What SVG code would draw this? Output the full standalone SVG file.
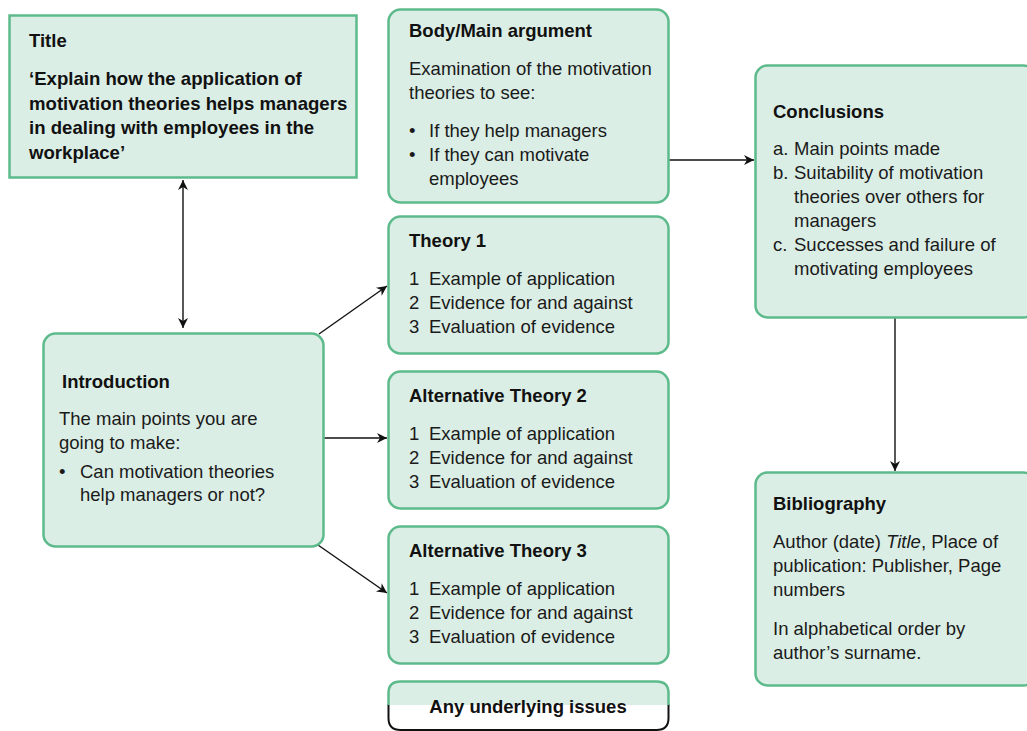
<svg xmlns="http://www.w3.org/2000/svg" width="1027" height="731" viewBox="0 0 1027 731">
  <style>
    .box { fill: #dbeee5; stroke: #5dba8b; stroke-width: 2.5; }
    .t { font-family: "Liberation Sans", Arial, sans-serif; font-size: 18.5px; fill: #1a1a1a; }
    .h { font-family: "Liberation Sans", Arial, sans-serif; font-size: 18.5px; font-weight: bold; fill: #111; }
    .tt { font-family: "Liberation Sans", Arial, sans-serif; font-size: 18.6px; font-weight: bold; fill: #111; }
    .edge { stroke: #111; stroke-width: 1.4; fill: none; }
  </style>
  <defs>
    <marker id="arrow" viewBox="0 0 10 10" refX="10" refY="5" markerWidth="12" markerHeight="10" markerUnits="userSpaceOnUse" orient="auto-start-reverse">
      <path d="M0,0 L10,5 L0,10 L3,5 Z" fill="#111"/>
    </marker>
  </defs>
  <rect width="1027" height="731" fill="#ffffff"/>

  <g id="connectors">
    <line class="edge" x1="183" y1="180" x2="183" y2="328" marker-start="url(#arrow)" marker-end="url(#arrow)"/>
    <line class="edge" x1="668" y1="160" x2="754" y2="160" marker-end="url(#arrow)"/>
    <line class="edge" x1="319" y1="334" x2="387" y2="286" marker-end="url(#arrow)"/>
    <line class="edge" x1="323" y1="438" x2="387" y2="438" marker-end="url(#arrow)"/>
    <line class="edge" x1="318" y1="545" x2="387" y2="593" marker-end="url(#arrow)"/>
    <line class="edge" x1="895" y1="317" x2="895" y2="471" marker-end="url(#arrow)"/>
  </g>

  <g id="title">
    <rect class="box" x="9.5" y="15.5" width="347" height="162"/>
    <text class="h" x="29" y="47">Title</text>
    <text class="tt" x="29" y="85">‘Explain how the application of</text>
    <text class="tt" x="29" y="110">motivation theories helps managers</text>
    <text class="tt" x="29" y="134">in dealing with employees in the</text>
    <text class="tt" x="29" y="159">workplace’</text>
  </g>

  <g id="body">
    <rect class="box" x="388.5" y="9.5" width="280" height="193" rx="12"/>
    <text class="h" x="409" y="37">Body/Main argument</text>
    <text class="t" x="409" y="75">Examination of the motivation</text>
    <text class="t" x="409" y="99">theories to see:</text>
    <text class="t" x="409" y="137">•</text>
    <text class="t" x="429" y="137">If they help managers</text>
    <text class="t" x="409" y="161">•</text>
    <text class="t" x="429" y="161">If they can motivate</text>
    <text class="t" x="429" y="185">employees</text>
  </g>

  <g id="conclusions">
    <rect class="box" x="755.5" y="65.5" width="280" height="252" rx="12"/>
    <text class="h" x="773" y="118">Conclusions</text>
    <text class="t" x="773" y="155">a.</text>
    <text class="t" x="794" y="155">Main points made</text>
    <text class="t" x="773" y="179">b.</text>
    <text class="t" x="794" y="179">Suitability of motivation</text>
    <text class="t" x="794" y="203">theories over others for</text>
    <text class="t" x="794" y="227">managers</text>
    <text class="t" x="773" y="251">c.</text>
    <text class="t" x="794" y="251">Successes and failure of</text>
    <text class="t" x="794" y="275">motivating employees</text>
  </g>

  <g id="theory1">
    <rect class="box" x="388.5" y="216.5" width="280" height="137" rx="12"/>
    <text class="h" x="409" y="247">Theory 1</text>
    <text class="t" x="409" y="285">1</text>
    <text class="t" x="429" y="285">Example of application</text>
    <text class="t" x="409" y="309">2</text>
    <text class="t" x="429" y="309">Evidence for and against</text>
    <text class="t" x="409" y="333">3</text>
    <text class="t" x="429" y="333">Evaluation of evidence</text>
  </g>

  <g id="theory2">
    <rect class="box" x="388.5" y="371.5" width="280" height="137" rx="12"/>
    <text class="h" x="409" y="402">Alternative Theory 2</text>
    <text class="t" x="409" y="440">1</text>
    <text class="t" x="429" y="440">Example of application</text>
    <text class="t" x="409" y="464">2</text>
    <text class="t" x="429" y="464">Evidence for and against</text>
    <text class="t" x="409" y="488">3</text>
    <text class="t" x="429" y="488">Evaluation of evidence</text>
  </g>

  <g id="theory3">
    <rect class="box" x="388.5" y="526.5" width="280" height="137" rx="12"/>
    <text class="h" x="409" y="557">Alternative Theory 3</text>
    <text class="t" x="409" y="595">1</text>
    <text class="t" x="429" y="595">Example of application</text>
    <text class="t" x="409" y="619">2</text>
    <text class="t" x="429" y="619">Evidence for and against</text>
    <text class="t" x="409" y="643">3</text>
    <text class="t" x="429" y="643">Evaluation of evidence</text>
  </g>

  <g id="issues">
    <!-- lower half: white with dark outline -->
    <path d="M388.5,704 V718 Q388.5,730 400.5,730 H656.5 Q668.5,730 668.5,718 V704" fill="#ffffff" stroke="#111" stroke-width="2"/>
    <!-- upper half: green band -->
    <path d="M388.5,705 V693 Q388.5,681.5 400.5,681.5 H656.5 Q668.5,681.5 668.5,693 V705 Z" fill="#dbeee5" stroke="none"/>
    <path d="M388.5,705 V693 Q388.5,681.5 400.5,681.5 H656.5 Q668.5,681.5 668.5,693 V705" fill="none" stroke="#5dba8b" stroke-width="2.5"/>
    <text class="h" x="528" y="713" text-anchor="middle">Any underlying issues</text>
  </g>

  <g id="introduction">
    <rect class="box" x="43.5" y="333.5" width="280" height="213" rx="12"/>
    <text class="h" x="62" y="388">Introduction</text>
    <text class="t" x="59" y="425">The main points you are</text>
    <text class="t" x="59" y="449">going to make:</text>
    <text class="t" x="59" y="478">•</text>
    <text class="t" x="80" y="478">Can motivation theories</text>
    <text class="t" x="80" y="501">help managers or not?</text>
  </g>

  <g id="bibliography">
    <rect class="box" x="755.5" y="472.5" width="280" height="213" rx="12"/>
    <text class="h" x="773" y="510">Bibliography</text>
    <text class="t" x="773" y="548">Author (date) <tspan font-style="italic">Title</tspan>, Place of</text>
    <text class="t" x="773" y="572">publication: Publisher, Page</text>
    <text class="t" x="773" y="596">numbers</text>
    <text class="t" x="773" y="635">In alphabetical order by</text>
    <text class="t" x="773" y="659">author’s surname.</text>
  </g>
</svg>
